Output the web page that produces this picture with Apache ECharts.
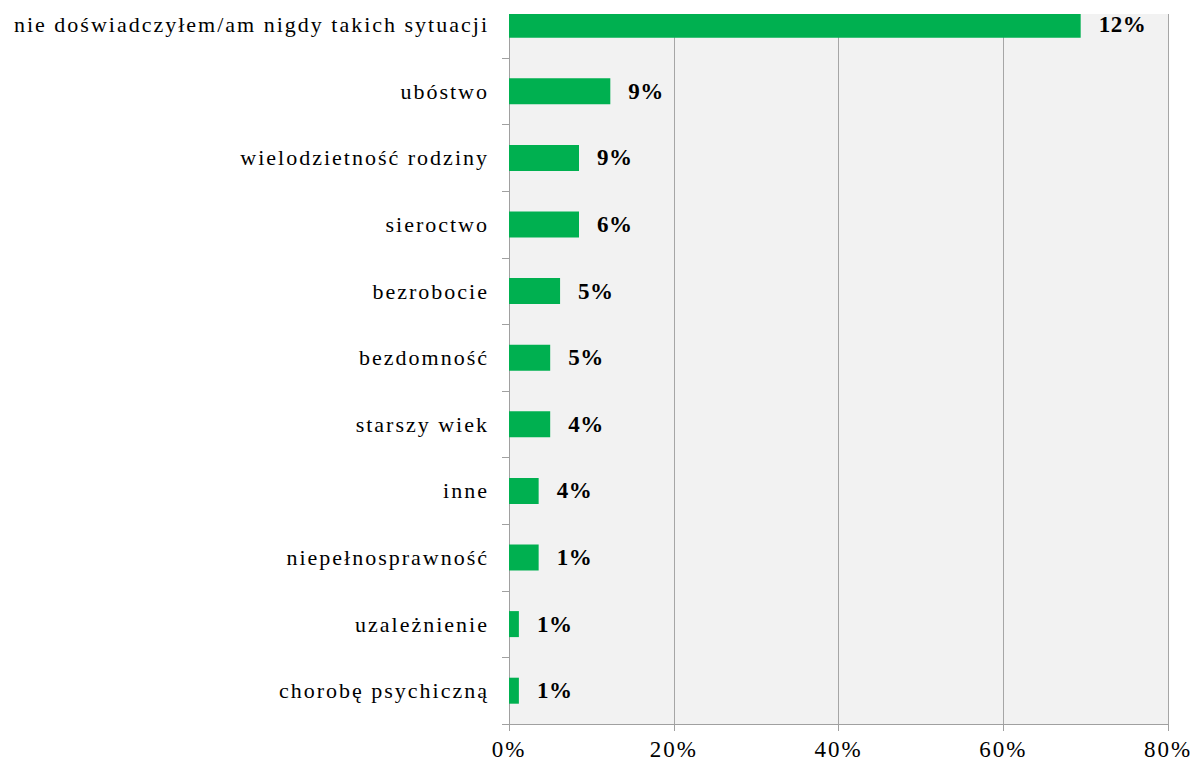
<!DOCTYPE html>
<html>
<head>
<meta charset="utf-8">
<script src="https://cdn.jsdelivr.net/npm/echarts@6/dist/echarts.min.js"></script>
<style>
    html, body { margin: 0; padding: 0; background: #fff; }
    #chart { width: 1197px; height: 764px; }
    /* tekst osi w oryginale jest rozstrzelony */
    #chart text { letter-spacing: 2px; font-family: "Liberation Serif", "Times New Roman", serif !important; }
    #chart text[style*="bold"] { letter-spacing: 0.5px; }
</style>
</head>
<body>
<div id="chart"></div>

<script>
    // kategorie (od góry)
    var categories = [
        'nie doświadczyłem/am nigdy takich sytuacji',
        'ubóstwo',
        'wielodzietność rodziny',
        'sieroctwo',
        'bezrobocie',
        'bezdomność',
        'starszy wiek',
        'inne',
        'niepełnosprawność',
        'uzależnienie',
        'chorobę psychiczną'
    ];
    // długości słupków (%)
    var values = [69.4, 12.3, 8.5, 8.5, 6.2, 5.0, 5.0, 3.6, 3.6, 1.2, 1.2];
    // etykiety przy słupkach
    var labels = ['12%', '9%', '9%', '6%', '5%', '5%', '4%', '4%', '1%', '1%', '1%'];
    var xTicks = [0, 20, 40, 60, 80];

    var myChart = echarts.init(document.getElementById('chart'), null, {renderer: 'svg'});

    var option = {
        animation: false,
        grid: {
            left: 509,
            right: 29,
            top: -8.6,
            bottom: 40,
            outerBoundsMode: 'none',
            containLabel: false,
            show: true,
            backgroundColor: '#f2f2f2',
            borderWidth: 0
        },
        // biały pas u góry - wykres w oryginale jest przycięty
        graphic: [{
            type: 'rect',
            left: 490,
            top: 0,
            z: 100,
            shape: {width: 707, height: 14},
            style: {fill: '#fff'}
        }],
        xAxis: {
            type: 'value',
            min: xTicks[0],
            max: xTicks[xTicks.length - 1],
            interval: 20,
            axisLine: {show: true, lineStyle: {color: '#a0a0a0', width: 1}},
            axisTick: {show: true, length: 7, lineStyle: {color: '#a0a0a0'}},
            splitLine: {show: true, lineStyle: {color: '#a6a6a6', width: 1}},
            axisLabel: {
                margin: 14,
                color: '#000',
                fontFamily: 'Liberation Serif',
                fontSize: 23,
                formatter: function (v) { return v + '%'; }
            }
        },
        yAxis: {
            type: 'category',
            inverse: true,
            data: categories,
            axisLine: {show: true, lineStyle: {color: '#a0a0a0', width: 1}},
            axisTick: {show: true, length: 7, lineStyle: {color: '#a0a0a0'}},
            axisLabel: {
                margin: 20,
                color: '#000',
                fontFamily: 'Liberation Serif',
                fontSize: 22
            }
        },
        series: [{
            type: 'bar',
            data: values,
            barWidth: 26,
            itemStyle: {color: '#00b050'},
            label: {
                show: true,
                position: 'right',
                distance: 18,
                color: '#000',
                fontFamily: 'Liberation Serif',
                fontWeight: 'bold',
                fontSize: 23,
                formatter: function (p) { return labels[p.dataIndex]; }
            }
        }]
    };

    myChart.setOption(option);
    window.onresize = myChart.resize;
</script>
</body>
</html>
